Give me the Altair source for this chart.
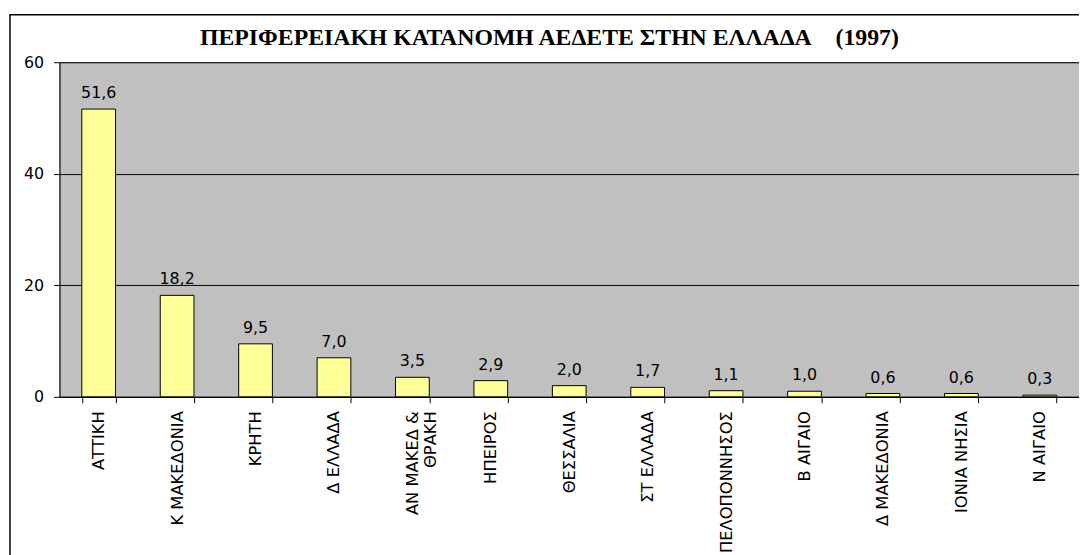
import altair as alt
import pandas as pd

regions = ["ΑΤΤΙΚΗ", "Κ ΜΑΚΕΔΟΝΙΑ", "ΚΡΗΤΗ", "Δ ΕΛΛΑΔΑ", "ΑΝ ΜΑΚΕΔ &\nΘΡΑΚΗ", "ΗΠΕΙΡΟΣ",
           "ΘΕΣΣΑΛΙΑ", "ΣΤ ΕΛΛΑΔΑ", "ΠΕΛΟΠΟΝΝΗΣΟΣ", "Β ΑΙΓΑΙΟ", "Δ ΜΑΚΕΔΟΝΙΑ", "ΙΟΝΙΑ ΝΗΣΙΑ", "Ν ΑΙΓΑΙΟ"]
values = [51.6, 18.2, 9.5, 7.0, 3.5, 2.9, 2.0, 1.7, 1.1, 1.0, 0.6, 0.6, 0.3]
y_ticks = [0, 20, 40, 60]
title_text = "ΠΕΡΙΦΕΡΕΙΑΚΗ ΚΑΤΑΝΟΜΗ ΑΕΔΕΤΕ ΣΤΗΝ ΕΛΛΑΔΑ\u00a0\u00a0\u00a0\u00a0(1997)"

df = pd.DataFrame({
    "region": regions,
    "value": values,
    "label": [f"{v:.1f}".replace(".", ",") for v in values],
})

W, H = 1030, 338
font = "DejaVu Sans"

x_enc = alt.X("region:N", sort=regions, title=None,
              scale=alt.Scale(paddingInner=0.57, paddingOuter=0.285),
              axis=alt.Axis(labelAngle=-90, labelAlign="right", labelBaseline="middle",
                            labelExpr="split(datum.label, '\\n')",
                            labelFont=font, labelFontSize=16.5, labelColor="black",
                            labelPadding=8, labelLineHeight=18,
                            tickBand="extent", tickSize=6, tickColor="black",
                            domainColor="black", grid=False))
y_enc = alt.Y("value:Q", title=None,
              scale=alt.Scale(domain=[0, 60], nice=False),
              axis=alt.Axis(values=y_ticks, labelFont=font, labelFontSize=16, labelColor="black",
                            tickSize=6, tickColor="black", labelPadding=10,
                            domainColor="black", gridColor="black", gridWidth=1))

base = alt.Chart(df)
first = alt.datum.region == regions[0]

frame = base.mark_rect(fill="white", fillOpacity=0, stroke="black", strokeWidth=1.5).encode(
    x=alt.value(-50), x2=alt.value(1200), y=alt.value(-48), y2=alt.value(700)
).transform_filter(first)

title = base.mark_text(text=title_text, font="Liberation Serif", fontSize=24, fontWeight="bold",
                       color="black", align="center", baseline="alphabetic").encode(
    x=alt.value(495), y=alt.value(-17)
).transform_filter(first)

bars = base.mark_bar(color="#ffff99", stroke="black", strokeWidth=1).encode(x=x_enc, y=y_enc)
text = base.mark_text(baseline="bottom", dy=-8, font=font, fontSize=16, color="black").encode(
    x=alt.X("region:N", sort=regions), y="value:Q", text="label:N")

chart = alt.layer(frame, title, bars, text).properties(
    width=W, height=H,
    autosize=alt.AutoSizeParams(type="none"),
    padding={"left": 52, "top": 52, "right": 0, "bottom": 157},
).configure_view(fill="#c0c0c0", stroke="#808080", strokeWidth=1)

chart.save("out.html", embed_options={"renderer": "svg", "actions": False})
